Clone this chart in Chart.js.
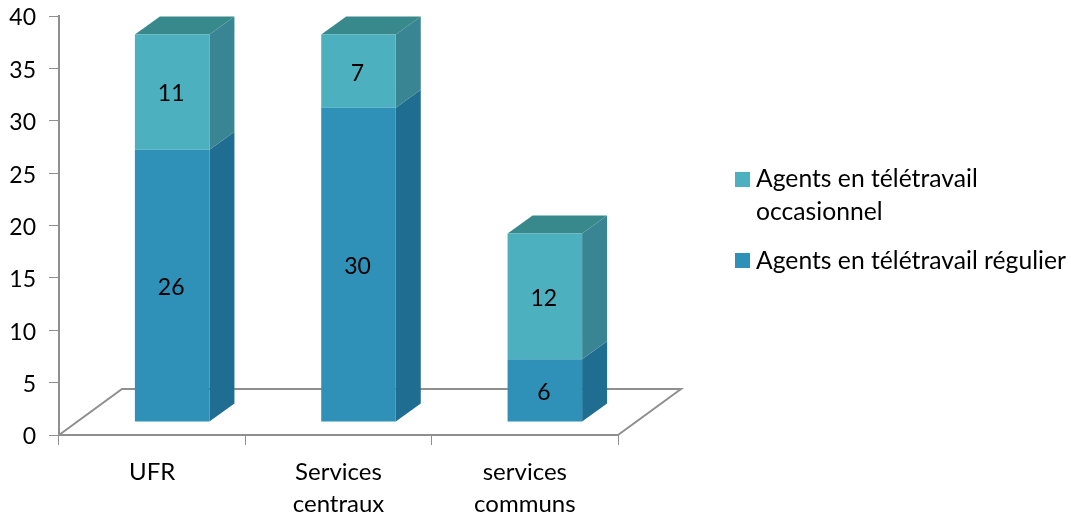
<!DOCTYPE html>
<html>
<head>
<meta charset="utf-8">
<style>
  html, body { margin: 0; padding: 0; background: #fff; }
  #wrap { width: 1071px; height: 514px; }
</style>
</head>
<body>
<div id="wrap"><canvas id="myChart" width="1071" height="514"></canvas></div>
<script src="https://cdn.jsdelivr.net/npm/chart.js@4"></script>
<script>
const categories = ['UFR', ['Services', 'centraux'], ['services', 'communs']];
const regulier = [26, 30, 6];
const occasionnel = [11, 7, 12];
const yTicks = [0, 5, 10, 15, 20, 25, 30, 35, 40];
const legendOccasionnel = ['Agents en télétravail', 'occasionnel'];
const legendRegulier = ['Agents en télétravail régulier'];

const FONT = 'Lato, "Open Sans", sans-serif';
const AXIS = '#8f8f8f';

// faces des barres : face, cote, dessus
const faces = [
    { front: '#2f90b8', side: '#1f6d90', top: '#1f6d90' },
    { front: '#4cb0bf', side: '#3a8593', top: '#37898c' }
];

// decalage de la perspective (pixels)
const barShift = { x: 20, y: -13 };
const barDepth = { x: 25, y: -18 };
const floorDepth = { x: 63, y: -46 };

function poly(ctx, pts, fill) {
    ctx.beginPath();
    pts.forEach((p, i) => i ? ctx.lineTo(p[0], p[1]) : ctx.moveTo(p[0], p[1]));
    ctx.closePath();
    ctx.fillStyle = fill;
    ctx.fill();
}

const perspective = {
    id: 'perspective',
    beforeDatasetsDraw(chart) {
        const ctx = chart.ctx;
        const y0 = chart.scales.y.getPixelForValue(0);
        const xl = chart.scales.x.left;
        const xr = chart.scales.x.right;

        // sol
        ctx.save();
        ctx.strokeStyle = AXIS;
        ctx.lineWidth = 2;
        ctx.beginPath();
        ctx.moveTo(xl, y0);
        ctx.lineTo(xl + floorDepth.x, y0 + floorDepth.y);
        ctx.lineTo(xr + floorDepth.x, y0 + floorDepth.y);
        ctx.lineTo(xr, y0);
        ctx.stroke();
        ctx.restore();

        ctx.save();
        ctx.translate(barShift.x, barShift.y);

        chart.data.datasets.forEach((ds, d) => {
            chart.getDatasetMeta(d).data.forEach(bar => {
                const r = bar.x + bar.width / 2;
                poly(ctx, [
                    [r, bar.y],
                    [r + barDepth.x, bar.y + barDepth.y],
                    [r + barDepth.x, bar.base + barDepth.y],
                    [r, bar.base]
                ], faces[d].side);
                if (d === chart.data.datasets.length - 1) {
                    const l = bar.x - bar.width / 2;
                    poly(ctx, [
                        [l, bar.y],
                        [l + barDepth.x, bar.y + barDepth.y],
                        [r + barDepth.x, bar.y + barDepth.y],
                        [r, bar.y]
                    ], faces[d].top);
                }
            });
        });
    },
    afterDatasetsDraw(chart) {
        const ctx = chart.ctx;
        ctx.fillStyle = '#000';
        ctx.font = '23px ' + FONT;
        ctx.textAlign = 'center';
        ctx.textBaseline = 'middle';
        chart.data.datasets.forEach((ds, d) => {
            chart.getDatasetMeta(d).data.forEach((bar, i) => {
                ctx.fillText(ds.data[i], bar.x - 1, (bar.y + bar.base) / 2 + 2);
            });
        });
        ctx.restore();
    },
    afterDraw(chart) {
        const ctx = chart.ctx;
        ctx.save();
        ctx.fillStyle = faces[1].front;
        ctx.fillRect(735, 172, 15, 15);
        ctx.fillStyle = faces[0].front;
        ctx.fillRect(735, 253, 15, 15);

        ctx.fillStyle = '#000';
        ctx.font = '24.7px ' + FONT;
        ctx.textAlign = 'left';
        ctx.textBaseline = 'alphabetic';
        ctx.fillText(legendOccasionnel[0], 756, 187);
        ctx.fillText(legendOccasionnel[1], 756, 220);
        ctx.fillText(legendRegulier[0], 756, 269);
        ctx.restore();
    }
};

const config = {
    type: 'bar',
    data: {
        labels: categories,
        datasets: [
            {
                label: legendRegulier[0],
                data: regulier,
                backgroundColor: faces[0].front,
                barPercentage: 0.4,
                categoryPercentage: 1
            },
            {
                label: legendOccasionnel.join(' '),
                data: occasionnel,
                backgroundColor: faces[1].front,
                barPercentage: 0.4,
                categoryPercentage: 1
            }
        ]
    },
    options: {
        responsive: false,
        animation: false,
        layout: { autoPadding: false, padding: { top: 16, right: 453, left: 0, bottom: 0 } },
        plugins: {
            legend: { display: false },
            tooltip: { enabled: false }
        },
        scales: {
            x: {
                stacked: true,
                afterFit: scale => { scale.height = 79; scale.paddingLeft = 0; scale.paddingRight = 0; },
                border: { color: AXIS, width: 2 },
                grid: { drawOnChartArea: false, color: AXIS, tickLength: 10, lineWidth: 1 },
                ticks: {
                    color: '#000',
                    padding: 12,
                    maxRotation: 0,
                    font: { family: FONT, size: 24, lineHeight: 1.3 }
                }
            },
            y: {
                stacked: true,
                min: 0,
                max: 40,
                afterFit: scale => { scale.width = 59; scale.paddingTop = 0; scale.paddingBottom = 0; },
                afterBuildTicks: scale => { scale.ticks = yTicks.map(v => ({ value: v })); },
                border: { color: AXIS, width: 2 },
                grid: { drawOnChartArea: false, color: AXIS, tickLength: 10, lineWidth: 1 },
                ticks: {
                    color: '#000',
                    padding: 13,
                    labelOffset: 2,
                    font: { family: FONT, size: 23 }
                }
            }
        }
    },
    plugins: [perspective]
};

const myChart = new Chart(document.getElementById('myChart'), config);
</script>
</body>
</html>
